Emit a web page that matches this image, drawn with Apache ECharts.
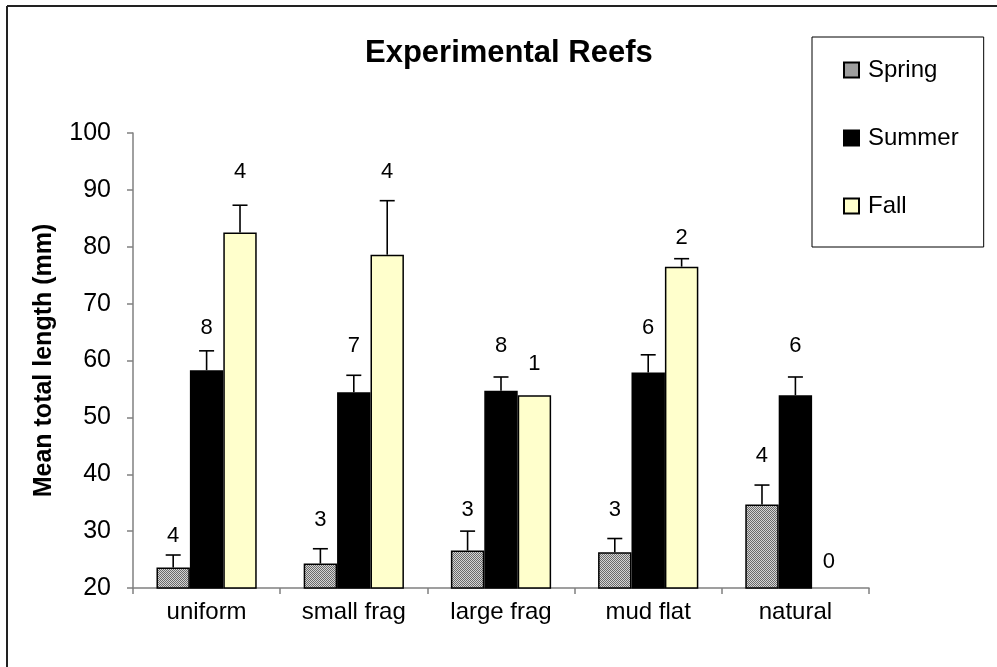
<!DOCTYPE html>
<html>
<head>
<meta charset="utf-8">
<script src="https://cdn.jsdelivr.net/npm/echarts@6/dist/echarts.min.js"></script>
<style>
html,body{margin:0;padding:0;background:#fff;}
#chart{width:997px;height:667px;}
</style>
</head>
<body>
<div id="chart"></div>
<script>
// ---- data ----
var categories = ['uniform', 'small frag', 'large frag', 'mud flat', 'natural'];
var seasons = ['Spring', 'Summer', 'Fall'];
var springMean = [23.6, 24.3, 26.6, 26.3, 34.7];
var summerMean = [58.3, 54.4, 54.7, 57.9, 53.9];
var fallMean = [82.5, 78.6, 53.9, 76.5, null];
var springErr = [2.2, 2.6, 3.4, 2.4, 3.4];
var summerErr = [3.4, 3.0, 2.4, 3.1, 3.2];
var fallErr = [4.8, 9.5, 0, 1.4, 0];
var springN = ['4', '3', '3', '3', '4'];
var summerN = ['8', '7', '8', '6', '6'];
var fallN = ['4', '4', '1', '2', '0'];
// where each sample-size label sits, in axis units
var springLabelAt = [29.2, 32.0, 33.7, 33.7, 43.2];
var summerLabelAt = [65.7, 62.6, 62.6, 65.7, 62.6];
var fallLabelAt = [93.2, 93.2, 59.4, 81.6, 24.6];
var yTicks = [20, 30, 40, 50, 60, 70, 80, 90, 100];

// ---- pattern for Spring ----
var pc = document.createElement('canvas');
pc.width = 2; pc.height = 2;
var pctx = pc.getContext('2d');
pctx.fillStyle = '#d4d4d4'; pctx.fillRect(0, 0, 2, 2);
pctx.fillStyle = '#6a6a6a'; pctx.fillRect(0, 0, 1, 1); pctx.fillRect(1, 1, 1, 1);
var springFill = { image: pc, repeat: 'repeat' };

var BAR_FRAC = 0.227;
var FONT = 'Arial, "Liberation Sans", sans-serif';

function overlay(k, means, errs, ns, labelAt) {
  return {
    type: 'custom',
    z: 10,
    silent: true,
    data: categories.map(function (c, i) { return [i, means[i], errs[i], labelAt[i], ns[i]]; }),
    renderItem: function (params, api) {
      var i = api.value(0);
      var band = api.size([1, 0])[0];
      var dx = (k - 1) * band * BAR_FRAC;
      var children = [];
      var mean = api.value(1);
      var err = api.value(2);
      if (mean != null && !isNaN(mean) && err > 0) {
        var p0 = api.coord([i, mean]);
        var p1 = api.coord([i, mean + err]);
        var x = p0[0] + dx;
        children.push({ type: 'line', shape: { x1: x, y1: p0[1], x2: x, y2: p1[1] },
          style: { stroke: '#000', lineWidth: 1.6 } });
        children.push({ type: 'line', shape: { x1: x - 7.5, y1: p1[1], x2: x + 7.5, y2: p1[1] },
          style: { stroke: '#000', lineWidth: 1.6 } });
      }
      var pl = api.coord([i, api.value(3)]);
      children.push({ type: 'text', x: pl[0] + dx, y: pl[1],
        style: { text: ns[i], fill: '#000', font: '22px ' + FONT, align: 'center', verticalAlign: 'middle' } });
      return { type: 'group', children: children };
    }
  };
}

var chart = echarts.init(document.getElementById('chart'), null, { renderer: 'canvas' });
var option = {
  backgroundColor: '#fff',
  animation: false,
  title: {
    text: 'Experimental Reefs',
    left: 360, top: 33,
    textStyle: { fontFamily: FONT, fontSize: 31, fontWeight: 'bold', color: '#000' }
  },
  legend: {
    data: seasons,
    orient: 'vertical',
    left: 812, top: 37,
    padding: [21, 25, 29, 31],
    itemWidth: 15, itemHeight: 15,
    itemGap: 44,
    icon: 'rect',
    borderColor: '#000', borderWidth: 1,
    backgroundColor: '#fff',
    textStyle: { fontFamily: FONT, fontSize: 24, color: '#000', lineHeight: 24, padding: [0, 0, 0, 4] }
  },
  grid: { left: 133, right: 128, top: 133, bottom: 79, containLabel: false },
  xAxis: {
    type: 'category',
    data: categories,
    axisLine: { lineStyle: { color: '#808080', width: 1.5 } },
    axisTick: { show: true, length: 6, lineStyle: { color: '#808080', width: 1.5 } },
    axisLabel: { fontFamily: FONT, fontSize: 24, color: '#000', margin: 12 },
    splitLine: { show: false }
  },
  yAxis: {
    type: 'value',
    min: yTicks[0], max: yTicks[yTicks.length - 1], interval: 10,
    name: 'Mean total length (mm)',
    nameLocation: 'middle',
    nameGap: 76,
    nameTextStyle: { fontFamily: FONT, fontSize: 25, fontWeight: 'bold', color: '#000' },
    axisLine: { show: true, lineStyle: { color: '#808080', width: 1.5 } },
    axisTick: { show: true, length: 6, lineStyle: { color: '#808080', width: 1.5 } },
    axisLabel: { fontFamily: FONT, fontSize: 25, color: '#000', margin: 22 },
    splitLine: { show: false }
  },
  graphic: [
    { type: 'line', shape: { x1: 7, y1: 6, x2: 7, y2: 667 }, style: { stroke: '#222', lineWidth: 2 } },
    { type: 'line', shape: { x1: 7, y1: 6, x2: 997, y2: 6 }, style: { stroke: '#222', lineWidth: 2 } }
  ],
  series: [
    { name: 'Spring', type: 'bar', data: springMean, barWidth: (BAR_FRAC * 100) + '%', barGap: '0%',
      itemStyle: { color: springFill, borderColor: '#000', borderWidth: 1.5 } },
    { name: 'Summer', type: 'bar', data: summerMean, barWidth: (BAR_FRAC * 100) + '%', barGap: '0%',
      itemStyle: { color: '#000', borderColor: '#000', borderWidth: 1.5 } },
    { name: 'Fall', type: 'bar', data: fallMean, barWidth: (BAR_FRAC * 100) + '%', barGap: '0%',
      itemStyle: { color: '#FFFFCC', borderColor: '#000', borderWidth: 1.5 } },
    overlay(0, springMean, springErr, springN, springLabelAt),
    overlay(1, summerMean, summerErr, summerN, summerLabelAt),
    overlay(2, fallMean, fallErr, fallN, fallLabelAt)
  ]
};
chart.setOption(option);
</script>
</body>
</html>
